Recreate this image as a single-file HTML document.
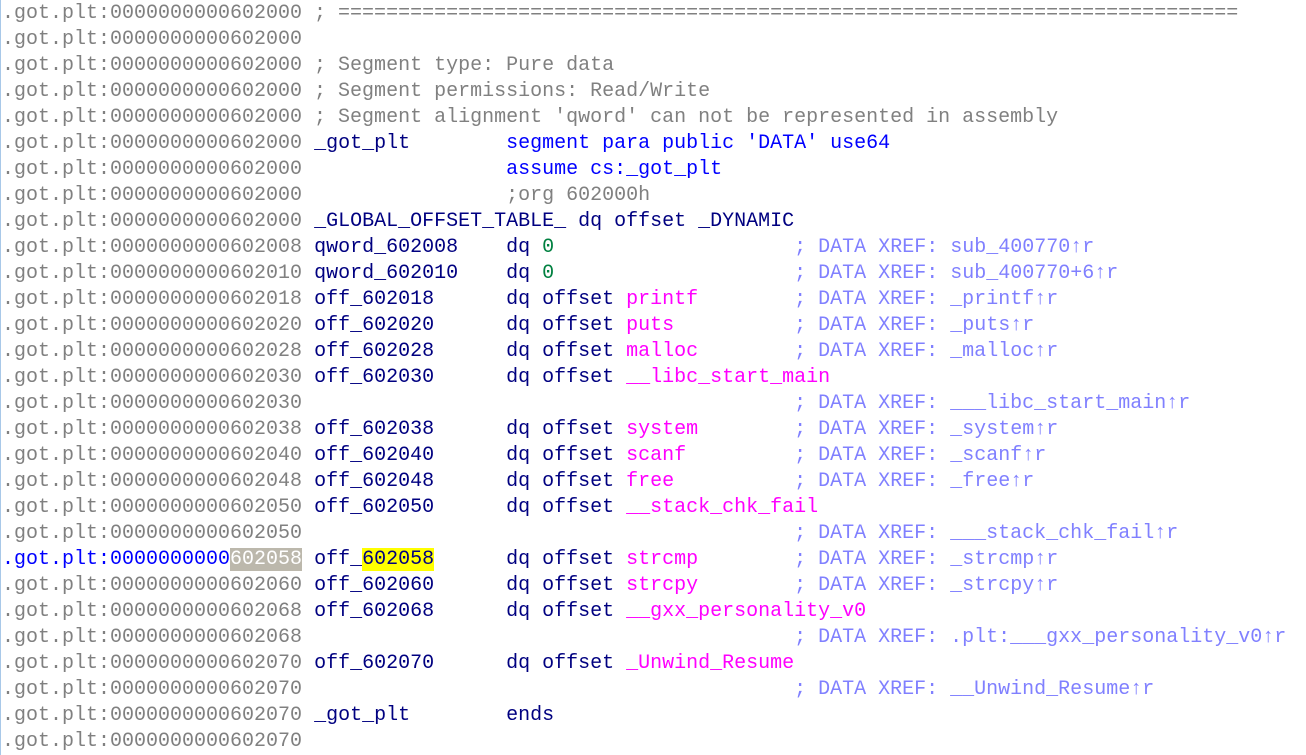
<!DOCTYPE html>
<html><head><meta charset="utf-8"><style>
html,body{margin:0;padding:0;background:#fff;width:1306px;height:755px;overflow:hidden}
body{border-left:1px solid #a8c8e8;box-sizing:border-box}
pre{margin:0;padding:0 0 0 1px;font-family:"Liberation Mono",monospace;font-size:20px;line-height:26px;color:#808080;position:relative;top:1px}
.n{color:#000080}.m{color:#ff00ff}.g{color:#008040}.c{color:#8080ff}.b{color:#0000ff}
.h{background:#bcb8ac;color:#fff}.y{background:#ffff00}
</style></head><body><pre>.got.plt:0000000000602000 ; ===========================================================================
.got.plt:0000000000602000
.got.plt:0000000000602000 ; Segment type: Pure data
.got.plt:0000000000602000 ; Segment permissions: Read/Write
.got.plt:0000000000602000 ; Segment alignment 'qword' can not be represented in assembly
.got.plt:0000000000602000 <span class="n">_got_plt</span>        <span class="b">segment para public 'DATA' use64</span>
.got.plt:0000000000602000                 <span class="b">assume cs:_got_plt</span>
.got.plt:0000000000602000                 ;org 602000h
.got.plt:0000000000602000 <span class="n">_GLOBAL_OFFSET_TABLE_ dq offset _DYNAMIC</span>
.got.plt:0000000000602008 <span class="n">qword_602008    dq </span><span class="g">0</span>                    <span class="c">; DATA XREF: sub_400770↑r</span>
.got.plt:0000000000602010 <span class="n">qword_602010    dq </span><span class="g">0</span>                    <span class="c">; DATA XREF: sub_400770+6↑r</span>
.got.plt:0000000000602018 <span class="n">off_602018      dq offset </span><span class="m">printf</span>        <span class="c">; DATA XREF: _printf↑r</span>
.got.plt:0000000000602020 <span class="n">off_602020      dq offset </span><span class="m">puts</span>          <span class="c">; DATA XREF: _puts↑r</span>
.got.plt:0000000000602028 <span class="n">off_602028      dq offset </span><span class="m">malloc</span>        <span class="c">; DATA XREF: _malloc↑r</span>
.got.plt:0000000000602030 <span class="n">off_602030      dq offset </span><span class="m">__libc_start_main</span>
.got.plt:0000000000602030                                         <span class="c">; DATA XREF: ___libc_start_main↑r</span>
.got.plt:0000000000602038 <span class="n">off_602038      dq offset </span><span class="m">system</span>        <span class="c">; DATA XREF: _system↑r</span>
.got.plt:0000000000602040 <span class="n">off_602040      dq offset </span><span class="m">scanf</span>         <span class="c">; DATA XREF: _scanf↑r</span>
.got.plt:0000000000602048 <span class="n">off_602048      dq offset </span><span class="m">free</span>          <span class="c">; DATA XREF: _free↑r</span>
.got.plt:0000000000602050 <span class="n">off_602050      dq offset </span><span class="m">__stack_chk_fail</span>
.got.plt:0000000000602050                                         <span class="c">; DATA XREF: ___stack_chk_fail↑r</span>
<span class="b">.got.plt:0000000000</span><span class="h">602058</span> <span class="n">off_<span class="y">602058</span>      dq offset </span><span class="m">strcmp</span>        <span class="c">; DATA XREF: _strcmp↑r</span>
.got.plt:0000000000602060 <span class="n">off_602060      dq offset </span><span class="m">strcpy</span>        <span class="c">; DATA XREF: _strcpy↑r</span>
.got.plt:0000000000602068 <span class="n">off_602068      dq offset </span><span class="m">__gxx_personality_v0</span>
.got.plt:0000000000602068                                         <span class="c">; DATA XREF: .plt:___gxx_personality_v0↑r</span>
.got.plt:0000000000602070 <span class="n">off_602070      dq offset </span><span class="m">_Unwind_Resume</span>
.got.plt:0000000000602070                                         <span class="c">; DATA XREF: __Unwind_Resume↑r</span>
.got.plt:0000000000602070 <span class="n">_got_plt        ends</span>
.got.plt:0000000000602070
</pre></body></html>
